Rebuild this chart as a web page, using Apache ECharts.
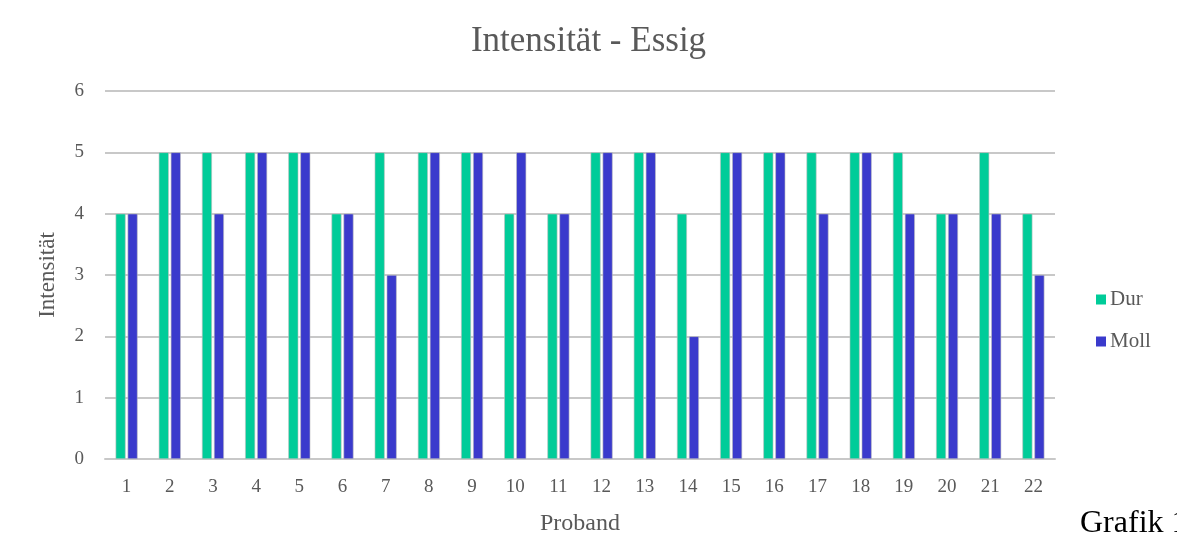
<!DOCTYPE html>
<html>
<head>
<meta charset="utf-8">
<script src="https://cdn.jsdelivr.net/npm/echarts@6/dist/echarts.min.js"></script>
<style>
  html, body { margin: 0; padding: 0; background: #fff; }
  #chart { width: 1177px; height: 540px; }
</style>
</head>
<body>
<div id="chart"></div>
<script>
// Daten
var probanden = ["1","2","3","4","5","6","7","8","9","10","11","12","13","14","15","16","17","18","19","20","21","22"];
var durWerte = [4,5,5,5,5,4,5,5,5,4,4,5,5,4,5,5,5,5,5,4,5,4];
var mollWerte = [4,5,4,5,5,4,3,5,5,5,4,5,5,2,5,5,4,5,4,4,4,3];
var yTicks = [0, 6, 1];

var font = "'Liberation Serif', 'DejaVu Serif', serif";
var grau = "#595959";

var chart = echarts.init(document.getElementById("chart"));
chart.setOption({
  backgroundColor: "#fff",
  animation: false,
  title: {
    text: "Intensität - Essig",
    left: "center",
    top: 19,
    textStyle: { fontFamily: font, fontSize: 35, fontWeight: "normal", color: grau }
  },
  legend: {
    orient: "vertical",
    left: 1091,
    top: 284,
    itemWidth: 10,
    itemHeight: 10,
    itemGap: 21,
    icon: "rect",
    itemStyle: { borderWidth: 0 },
    textStyle: { fontFamily: font, fontSize: 21, color: grau, padding: [0, 0, 0, -1] },
    data: ["Dur", "Moll"]
  },
  grid: { left: 105, right: 122, top: 91, bottom: 81, outerBoundsMode: "none", containLabel: false },
  xAxis: {
    type: "category",
    data: probanden,
    name: "Proband",
    nameLocation: "middle",
    nameGap: 53,
    nameTextStyle: { fontFamily: font, fontSize: 24, color: grau },
    axisLine: { lineStyle: { color: "#c8c8c8", width: 2 } },
    axisTick: { show: false },
    axisLabel: { fontFamily: font, fontSize: 19, color: grau, margin: 19 }
  },
  yAxis: {
    type: "value",
    min: yTicks[0],
    max: yTicks[1],
    interval: yTicks[2],
    name: "Intensität",
    nameLocation: "middle",
    nameGap: 46,
    nameTextStyle: { fontFamily: font, fontSize: 23, color: grau },
    axisLabel: { fontFamily: font, fontSize: 19, color: grau, margin: 21 },
    splitLine: { lineStyle: { color: "#c8c8c8", width: 2 } }
  },
  series: [
    {
      name: "Dur",
      type: "bar",
      data: durWerte,
      barWidth: 10,
      barGap: "20%",
      itemStyle: { color: "#00cc99", borderColor: "#bfbfbf", borderWidth: 0.6 }
    },
    {
      name: "Moll",
      type: "bar",
      data: mollWerte,
      barWidth: 10,
      itemStyle: { color: "#3a3acc", borderColor: "#bfbfbf", borderWidth: 0.6 }
    }
  ],
  graphic: [{
    type: "text",
    left: 1080,
    top: 508,
    style: { text: "Grafik 1", fontFamily: font, fontSize: 32, fill: "#000" }
  }]
});
</script>
</body>
</html>
